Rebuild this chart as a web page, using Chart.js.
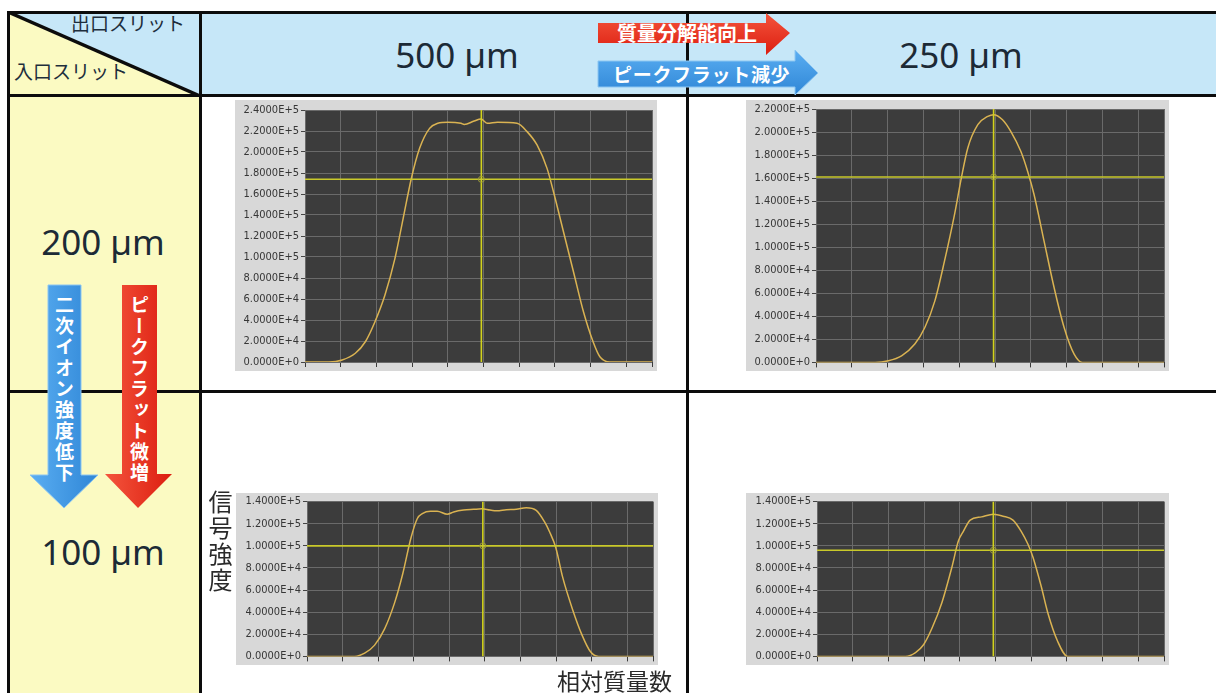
<!DOCTYPE html>
<html lang="ja">
<head>
<meta charset="utf-8">
<title>スリット幅とピーク形状</title>
<script src="https://cdn.jsdelivr.net/npm/chart.js@4.4.1/dist/chart.umd.min.js"></script>
<style>
  html, body { margin: 0; padding: 0; background: #fff; }
  #sheet { position: relative; width: 1216px; height: 693px; overflow: hidden; background: #fff; }
  .abs { position: absolute; }
  .rule { position: absolute; background: #0c0c0c; }
  .size { position: absolute; width: 220px; height: 44px; line-height: 44px; text-align: center;
          font-family: "Noto Sans", sans-serif; font-size: 35px; color: #1c2a36; white-space: nowrap; }
  .jp { position: absolute; font-family: "Noto Sans CJK JP", sans-serif; white-space: nowrap; }
  .vert { writing-mode: vertical-rl; text-orientation: upright; }
  canvas { position: absolute; }
</style>
</head>
<body>
<div id="sheet">
  <!-- cell fills -->
  <div class="abs" style="left:7px;top:11px;width:1209px;height:86px;background:#c6e7f8"></div>
  <div class="abs" style="left:7px;top:97px;width:194px;height:596px;background:#fbfac2"></div>
  <svg class="abs" style="left:7px;top:11px" width="194" height="86">
    <polygon points="0,0 194,86 0,86" fill="#fbfac2"/>
    <line x1="1" y1="1" x2="193" y2="85" stroke="#0c0c0c" stroke-width="3.5"/>
  </svg>

  <!-- table rules -->
  <div class="rule" style="left:7px;top:11px;width:1209px;height:3px"></div>
  <div class="rule" style="left:7px;top:94px;width:1209px;height:3px"></div>
  <div class="rule" style="left:7px;top:390px;width:1209px;height:3px"></div>
  <div class="rule" style="left:7px;top:11px;width:3px;height:682px"></div>
  <div class="rule" style="left:199px;top:11px;width:3px;height:682px"></div>
  <div class="rule" style="left:686px;top:11px;width:3px;height:682px"></div>

  <!-- corner cell captions -->
  <div class="jp" style="left:71px;top:12px;font-size:19px;line-height:22px;color:#1e2e3c">出口スリット</div>
  <div class="jp" style="left:14px;top:60px;font-size:19px;line-height:22px;color:#1e2e3c">入口スリット</div>

  <!-- slit widths -->
  <div class="size" style="left:347px;top:33px">500 µm</div>
  <div class="size" style="left:851px;top:33px">250 µm</div>
  <div class="size" style="left:-7px;top:220px">200 µm</div>
  <div class="size" style="left:-7px;top:530px">100 µm</div>

  <!-- trend arrows -->
  <svg class="abs" style="left:0;top:0" width="1216" height="693">
    <defs>
      <linearGradient id="redH" x1="0" y1="0" x2="0" y2="1">
        <stop offset="0" stop-color="#f4553d"/><stop offset="1" stop-color="#dc1d0f"/>
      </linearGradient>
      <linearGradient id="blueH" x1="0" y1="0" x2="0" y2="1">
        <stop offset="0" stop-color="#5aaef2"/><stop offset="1" stop-color="#2f86d6"/>
      </linearGradient>
      <linearGradient id="redV" x1="0" y1="0" x2="1" y2="0">
        <stop offset="0" stop-color="#f4553d"/><stop offset="1" stop-color="#dc1d0f"/>
      </linearGradient>
      <linearGradient id="blueV" x1="0" y1="0" x2="1" y2="0">
        <stop offset="0" stop-color="#5aaef2"/><stop offset="1" stop-color="#2f86d6"/>
      </linearGradient>
    </defs>
    <polygon points="598,23 766,23 766,13 790,33 766,55 766,43 598,43" fill="url(#redH)"/>
    <polygon points="598,61 795,61 795,50 818,73 795,95 795,87 598,87" fill="url(#blueH)" stroke="#8cc6f2" stroke-width="1"/>
    <polygon points="48,285 81,285 81,475 98,475 64,508 30,475 48,475" fill="url(#blueV)" stroke="#8cc6f2" stroke-width="1"/>
    <polygon points="122,285 157,285 157,474 172,474 138,508 105,474 122,474" fill="url(#redV)"/>
  </svg>
  <div class="jp" style="left:617px;top:22px;font-size:20px;line-height:22px;font-weight:700;color:#fff">質量分解能向上</div>
  <div class="jp" style="left:613px;top:63px;font-size:19px;line-height:22px;letter-spacing:0.7px;font-weight:700;color:#fff">ピークフラット減少</div>
  <div class="jp vert" style="left:53px;top:295px;width:22px;font-size:19px;line-height:22px;letter-spacing:2px;font-weight:700;color:#fff">二次イオン強度低下</div>
  <div class="jp vert" style="left:128px;top:295px;width:22px;font-size:19px;line-height:22px;letter-spacing:2px;font-weight:700;color:#fff">ピークフラット微増</div>

  <!-- spectra -->
  <canvas id="p200_500" width="422" height="271" style="left:235px;top:100px"></canvas>
  <canvas id="p200_250" width="423" height="271" style="left:746px;top:100px"></canvas>
  <canvas id="p100_500" width="422" height="172" style="left:236px;top:493px"></canvas>
  <canvas id="p100_250" width="423" height="172" style="left:746px;top:493px"></canvas>

  <!-- axis captions -->
  <div class="jp vert" style="left:206px;top:490px;width:28px;font-size:24px;line-height:28px;letter-spacing:2px;color:#2a2a2a">信号強度</div>
  <div class="jp" style="left:557px;top:668px;font-size:23px;line-height:25px;color:#2a2a2a">相対質量数</div>
</div>

<script>
// Relative mass axis: grid positions (arbitrary units) and the axis end
const massTicks = [0, 1, 2, 3, 4, 5, 6, 7, 8, 9, 9.72];
const massMax = 9.72;

// Entrance 200 µm / exit 500 µm
const mass_200_500   = [0, 0.67, 1.04, 1.41, 1.69, 1.96, 2.24, 2.52, 2.75, 2.98, 3.21, 3.49, 3.72, 4.0, 4.37, 4.46, 4.74, 4.93, 5.11, 5.39, 5.94, 6.22, 6.5, 6.78, 6.96, 7.24, 7.52, 7.8, 8.07, 8.26, 8.54, 9.72];
const signal_200_500 = [0, 0, 1900, 8300, 19300, 38400, 63800, 98700, 136800, 175000, 203500, 222500, 227300, 228300, 227300, 226300, 229500, 231400, 227300, 228300, 227300, 219400, 206700, 184400, 162200, 124100, 86000, 47900, 19300, 5000, 0, 0];

// Entrance 200 µm / exit 250 µm
const mass_200_250   = [0, 1.65, 2.02, 2.39, 2.76, 3.04, 3.32, 3.59, 3.87, 4.06, 4.24, 4.52, 4.8, 4.96, 5.21, 5.44, 5.72, 5.91, 6.09, 6.37, 6.65, 6.93, 7.21, 7.44, 9.72];
const signal_200_250 = [0, 0, 1400, 5700, 15900, 30300, 53400, 88100, 128500, 160200, 186200, 206400, 213600, 215100, 210700, 200600, 183300, 166000, 145800, 105300, 65000, 30300, 7200, 0, 0];

// Entrance 100 µm / exit 500 µm
const mass_100_500   = [0, 1.34, 1.62, 1.9, 2.18, 2.46, 2.69, 2.92, 3.1, 3.24, 3.47, 3.66, 3.94, 4.12, 4.4, 4.68, 4.91, 5.14, 5.33, 5.6, 5.88, 6.16, 6.44, 6.67, 6.81, 6.99, 7.18, 7.46, 7.73, 7.96, 8.19, 9.72];
const signal_100_500 = [0, 0, 2900, 10200, 24900, 48400, 74800, 107100, 124700, 129100, 131200, 131200, 128600, 130600, 132300, 133000, 133500, 132300, 131700, 132600, 133000, 134400, 132000, 121800, 113000, 98300, 71900, 42500, 19000, 4400, 0, 0];

// Entrance 100 µm / exit 250 µm
const mass_100_250   = [0, 2.48, 2.76, 2.99, 3.22, 3.5, 3.78, 3.96, 4.1, 4.29, 4.61, 4.94, 5.21, 5.49, 5.72, 5.91, 6.05, 6.28, 6.46, 6.74, 7.02, 9.72];
const signal_100_250 = [0, 0, 3500, 10800, 25400, 48800, 80900, 104300, 113100, 123300, 126200, 128600, 126800, 123300, 113100, 101400, 89700, 63400, 40000, 13700, 0, 0];

// Signal axis tops and cursor readouts (200/500, 200/250, 100/500, 100/250)
const signalTop    = [240000, 220000, 140000, 140000];
const signalStep   = 20000;
const cursorMass   = [4.94, 4.96, 4.94, 4.94];
const cursorSignal = [174000, 161000, 100000, 96000];

const TRACE = '#dab352';
const CURSOR = '#c9c92a';
const GRID = '#6a6a6a';
const FRAME = '#d8d8d8';
const PLOT = '#3c3c3c';

// LabVIEW-style scientific label, e.g. 2.4000E+5
function sci(v) {
  if (v === 0) return '0.0000E+0';
  const e = Math.floor(Math.log10(v) + 1e-9);
  return (v / Math.pow(10, e)).toFixed(4) + 'E+' + e;
}

const panelBg = {
  id: 'panelBg',
  beforeDraw(chart) {
    const { ctx, chartArea: a, width, height } = chart;
    ctx.save();
    ctx.fillStyle = FRAME;
    ctx.fillRect(0, 0, width, height);
    ctx.fillStyle = PLOT;
    ctx.fillRect(a.left, a.top, a.right - a.left, a.bottom - a.top);
    ctx.restore();
  }
};

function spectrum(id, mass, signal, k, box) {
  const top = signalTop[k];
  const cm = cursorMass[k];
  const cs = cursorSignal[k];
  return new Chart(document.getElementById(id), {
    type: 'line',
    data: {
      datasets: [
        { data: mass.map((m, i) => ({ x: m, y: signal[i] })), borderColor: TRACE, borderWidth: 1.5,
          pointRadius: 0, cubicInterpolationMode: 'monotone', order: 3 },
        { data: [{ x: 0, y: cs }, { x: massMax, y: cs }], borderColor: CURSOR, borderWidth: 1.6,
          pointRadius: 0, order: 2 },
        { data: [{ x: cm, y: 0 }, { x: cm, y: top }], borderColor: '#d2d21c', borderWidth: 1.6,
          pointRadius: 0, order: 2 },
        { data: [{ x: cm, y: cs }], showLine: false, pointRadius: 3, pointStyle: 'circle',
          pointBorderColor: '#9c9c3a', pointBackgroundColor: 'rgba(0,0,0,0)', pointBorderWidth: 1, order: 1 }
      ]
    },
    options: {
      responsive: false,
      animation: false,
      devicePixelRatio: 1,
      layout: { padding: { top: box.top, right: box.right, left: 0, bottom: 0 } },
      plugins: { legend: { display: false }, tooltip: { enabled: false } },
      scales: {
        x: {
          type: 'linear', min: 0, max: massMax,
          afterBuildTicks: s => { s.ticks = massTicks.map(v => ({ value: v })); },
          afterFit: s => { s.height = box.bottom; },
          ticks: { display: false },
          grid: { color: GRID, lineWidth: 1, drawTicks: true, tickLength: 5, tickColor: '#3a3a3a' },
          border: { display: false }
        },
        y: {
          min: 0, max: top,
          afterFit: s => { s.width = box.left; },
          ticks: { stepSize: signalStep, maxTicksLimit: 30, callback: v => sci(v), color: '#363636',
                   padding: 2, font: { family: "'DejaVu Sans Condensed', 'DejaVu Sans'", size: 11 } },
          grid: { color: GRID, lineWidth: 1, tickLength: 4, tickColor: '#444' },
          border: { display: false }
        }
      }
    },
    plugins: [panelBg]
  });
}

spectrum('p200_500', mass_200_500, signal_200_500, 0, { left: 70, bottom: 9, top: 10, right: 1 });
spectrum('p200_250', mass_200_250, signal_200_250, 1, { left: 70, bottom: 8, top: 9, right: 0 });
spectrum('p100_500', mass_100_500, signal_100_500, 2, { left: 71, bottom: 7, top: 6, right: 1 });
spectrum('p100_250', mass_100_250, signal_100_250, 3, { left: 71, bottom: 6, top: 6, right: 0 });
</script>
</body>
</html>
